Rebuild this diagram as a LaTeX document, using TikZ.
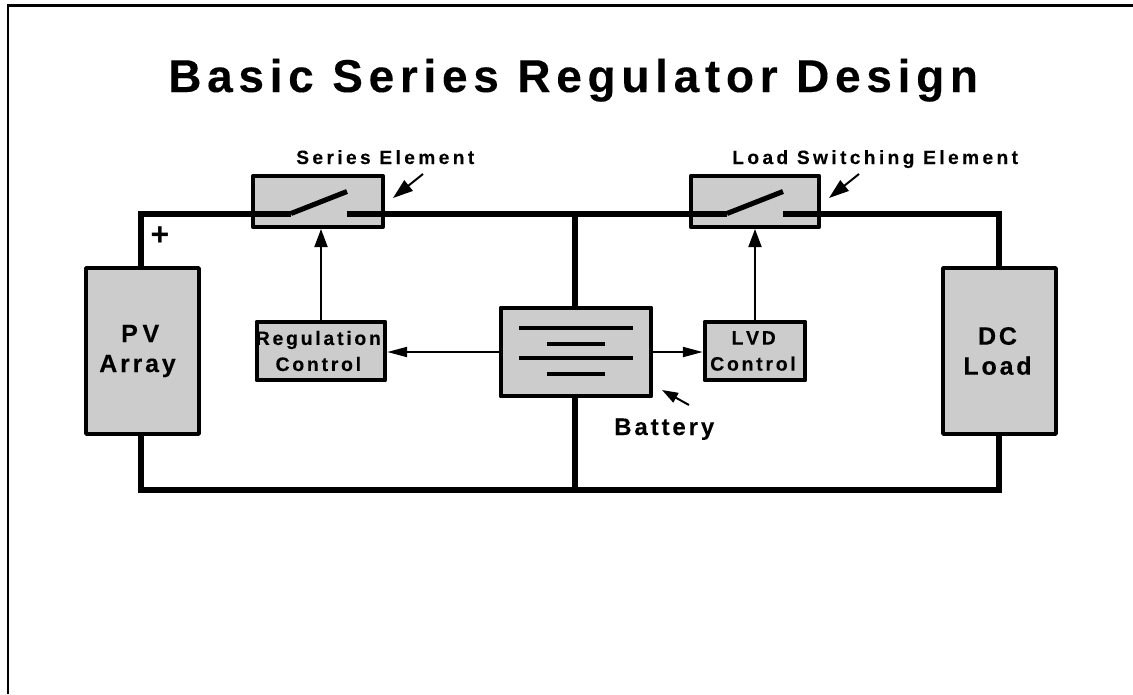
\documentclass[tikz,border=0pt]{standalone}
\usepackage{fontspec}
\setmainfont{Liberation Sans}
\usetikzlibrary{arrows.meta}
\tikzset{
  wire/.style={line width=4.5pt,line join=miter},
  box/.style={draw=black,fill=black!20,line width=2.8pt,line join=round,inner sep=0pt,align=center},
  sig/.style={line width=1.5pt,-{Triangle[length=13.5pt,width=9.75pt]}},
  sigh/.style={line width=1.5pt,-{Triangle[length=15pt,width=7.5pt]}},
  ptr/.style={line width=1.5pt,-{Triangle[length=15pt,width=10pt]}},
  ptrs/.style={line width=1.5pt,-{Triangle[length=12pt,width=8pt]}},
  plate/.style={line width=3.1pt},
  bigtext/.style={font=\bfseries\fontsize{18.8}{22.5}\selectfont\addfontfeatures{LetterSpace=11,FakeBold=0.15}},
  smalltext/.style={font=\bfseries\fontsize{14.6}{19.5}\selectfont\addfontfeatures{LetterSpace=14,FakeBold=0.15}},
  tagtext/.style={inner sep=0pt,anchor=base west,font=\bfseries\fontsize{14.4}{17}\selectfont\addfontfeatures{LetterSpace=17.5,FakeBold=0.15}},
}
\begin{document}
\begin{tikzpicture}[x=0.75pt,y=-0.75pt]
\useasboundingbox (0,0) rectangle (1133,694);
% frame
\draw[line width=1.9pt] (8,694) -- (8,5.5) -- (1133,5.5);
% title
\node[inner sep=0pt,anchor=base west,font=\bfseries\fontsize{34.5}{40}\selectfont\addfontfeatures{LetterSpace=12.4,FakeBold=0.15}] (title) at (168,92) {Basic Series Regulator Design};
% boxes
\node[box,minimum width=84.75pt,minimum height=124.5pt,bigtext] (pv) at (142.5,351) {\hspace*{-3.5pt}P\kern3.5pt V\\\hspace*{-7.5pt}Array};
\node[box,minimum width=84.75pt,minimum height=124.5pt,bigtext] (load) at (999.5,351) {\hspace*{-3pt}DC\\\hspace*{-3pt}Load};
\node[box,minimum width=97.5pt,minimum height=38.5pt] (ser) at (318,201.5) {};
\node[box,minimum width=96.5pt,minimum height=38.5pt] (lsw) at (755,201.5) {};
\node[box,minimum width=96.5pt,minimum height=44pt,smalltext] (reg) at (321,351) {\hspace*{-4pt}Regulation\\\hspace*{-4pt}Control};
\node[box,minimum width=75.5pt,minimum height=44pt,smalltext] (lvd) at (755,351) {\hspace*{-2pt}L\kern2pt V\kern2pt D\\\hspace*{-3pt}Control};
\node[box,minimum width=113pt,minimum height=66.5pt] (bat) at (576,352) {};
% battery plates
\coordinate (b1a) at (519,328); \coordinate (b1b) at (633,328);
\coordinate (b2a) at (547,344); \coordinate (b2b) at (605,344);
\coordinate (b3a) at (519,358); \coordinate (b3b) at (633,358);
\coordinate (b4a) at (547,374); \coordinate (b4b) at (605,374);
\draw[plate] (b1a) -- (b1b);
\draw[plate] (b2a) -- (b2b);
\draw[plate] (b3a) -- (b3b);
\draw[plate] (b4a) -- (b4b);
% switch contacts
\coordinate (s1a) at (291,213.5); \coordinate (s1b) at (347,213.5); \coordinate (s1t) at (347,191.5);
\coordinate (s2a) at (727,213.5); \coordinate (s2b) at (783,213.5); \coordinate (s2t) at (783,191.5);
\coordinate (tj) at (575,213.5);
\coordinate (bj) at (575,489.5);
% wires
\draw[wire] (141,266) |- (s1a);
\draw[wire] (s1b) -- (s2a);
\draw[wire] (s2b) -| (999,266);
\draw[wire] (141,436) |- (bj) -| (999,436);
\draw[wire] (tj) -- (575,306);
\draw[wire] (bj) -- (575,398);
% blades
\draw[line width=3.8pt] (s1a) -- (s1t);
\draw[line width=3.8pt] (s2a) -- (s2t);
% control arrows
\draw[sig] (reg.north) -- (reg.north |- ser.south);
\draw[sig] (lvd.north) -- (lvd.north |- lsw.south);
\draw[sigh] (bat.west) -- (reg.east |- bat.west);
\draw[sigh] (bat.east) -- (lvd.west |- bat.east);
% pointers
\coordinate (p1a) at (423,174); \coordinate (p1b) at (393,198);
\coordinate (p2a) at (859,174); \coordinate (p2b) at (829,198);
\coordinate (p3a) at (689,405); \coordinate (p3b) at (662,390);
\draw[ptr] (p1a) -- (p1b);
\draw[ptr] (p2a) -- (p2b);
\draw[ptrs] (p3a) -- (p3b);
% labels
\node[tagtext] (serl) at (296,164) {Series Element};
\node[tagtext] (lswl) at (732,164) {Load Switching Element};
\node[inner sep=0pt,anchor=base west,font=\bfseries\fontsize{18}{22}\selectfont\addfontfeatures{LetterSpace=12,FakeBold=0.15}] (batl) at (614,435) {Battery};
\node[inner sep=0pt,font=\bfseries\fontsize{24}{26}\selectfont] (plus) at (160,236) {+};
\end{tikzpicture}
\end{document}
